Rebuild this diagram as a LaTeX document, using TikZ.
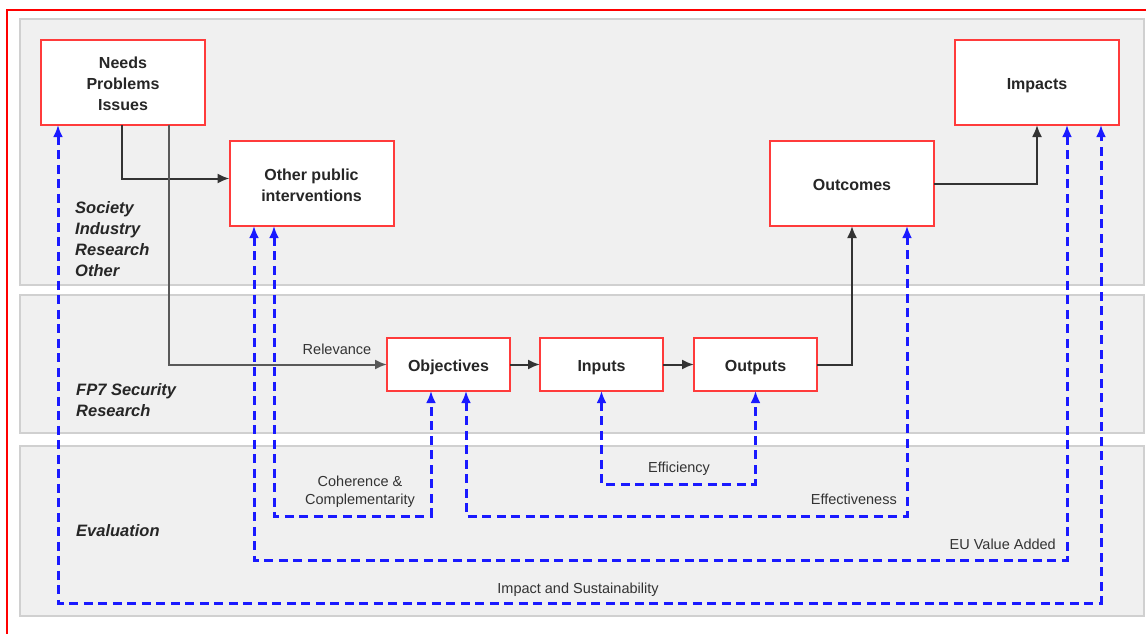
\documentclass[tikz,border=0pt]{standalone}
\usepackage{fontspec}
\setmainfont{Liberation Sans}
\usetikzlibrary{arrows.meta}
\definecolor{bandfill}{HTML}{F0F0F0}
\definecolor{bandline}{HTML}{D0D0D0}
\definecolor{boxred}{HTML}{FF3B3B}
\definecolor{evalblue}{HTML}{1A1AFF}
\definecolor{labelgray}{HTML}{333333}
% stage text, set a little lower than the geometric centre
\newcommand\stagelabel[1]{\raisebox{-3pt}[\height][\depth]{\begin{tabular}{@{}c@{}}#1\end{tabular}}}
\begin{document}
\begin{tikzpicture}[x=1pt,y=-1pt,
  band/.style={fill=bandfill,draw=bandline,line width=1.6pt},
  stage/.style={draw=boxred,fill=white,line width=2pt,inner sep=0pt,outer sep=0pt,
    font=\fontsize{16}{21}\selectfont\bfseries,text=black!85},
  bigstage/.style={stage,minimum width=164pt,minimum height=85pt},
  smallstage/.style={stage,minimum width=123pt,minimum height=53pt},
  flow/.style={draw=black!80,line width=2pt,-{Latex[length=12pt,width=10pt]}},
  evalflow/.style={draw=evalblue,line width=3pt,dash pattern=on 9pt off 5.5pt,
    {Latex[length=12pt,width=10pt]}-{Latex[length=12pt,width=10pt]}},
  tag/.style={font=\fontsize{14.5}{18}\selectfont,text=labelgray,inner sep=0pt,align=center},
  layer/.style={font=\fontsize{16.5}{21}\selectfont\bfseries\itshape,text=black!85,
    inner sep=0pt,align=left,anchor=west}]

% page and frame
\useasboundingbox (0,0) rectangle (1146,634);
\fill[white] (0,0) rectangle (1146,634);
\draw[red,line width=2.4pt] (7,10) rectangle (1165,655);

% horizontal layers
\draw[band] (20,19) rectangle (1144,285);
\draw[band] (20,295) rectangle (1144,433);
\draw[band] (20,446) rectangle (1144,616);

\node[layer] (lsoc) at (75,239) {Society\\Industry\\Research\\Other};
\node[layer] (lfp7) at (76,400) {FP7 Security\\Research};
\node[layer] (leval) at (76,531) {Evaluation};

% stages
\node[bigstage] (needs) at (123,82.5) {\stagelabel{Needs\\Problems\\Issues}};
\node[bigstage] (other) at (311.5,183.5) {\stagelabel{Other public\\interventions}};
\node[bigstage] (outcomes) at (852,183.5) {\stagelabel{Outcomes}};
\node[bigstage] (impacts) at (1037,82.5) {\stagelabel{Impacts}};
\node[smallstage] (obj) at (448.5,364.5) {\stagelabel{Objectives}};
\node[smallstage] (inputs) at (601.5,364.5) {\stagelabel{Inputs}};
\node[smallstage] (outputs) at (755.5,364.5) {\stagelabel{Outputs}};

% intervention logic
\draw[flow] ([xshift=-1pt]needs.south) |- ([yshift=5pt]other.west);
\draw[flow,draw=black!65] ([xshift=46pt]needs.south) |- (obj.west);
\draw[flow] (obj) -- (inputs);
\draw[flow] (inputs) -- (outputs);
\draw[flow] (outputs.east) -| (outcomes.south);
\draw[flow] (outcomes.east) -| (impacts.south);
\node[tag] (trel) at (337,349) {Relevance};

% evaluation criteria
\draw[evalflow] (inputs.south) -- ++(0,93) -| (outputs.south);
\draw[evalflow] ([xshift=-37.5pt]other.south) -- ++(0,290) -| ([xshift=-17.5pt]obj.south);
\draw[evalflow] ([xshift=17.5pt]obj.south) -- ++(0,125) -| ([xshift=55pt]outcomes.south);
\draw[evalflow] ([xshift=-57.5pt]other.south) -- ++(0,334) -| ([xshift=30pt]impacts.south);
\draw[evalflow] ([xshift=-65pt]needs.south) -- ++(0,478) -| ([xshift=64pt]impacts.south);

\node[tag] (teff) at (679,469) {Efficiency};
\node[tag] (tcoh) at (360,492) {Coherence \&\\Complementarity};
\node[tag,anchor=east] (tefv) at (897,499) {Effectiveness};
\node[tag,anchor=east] (teu) at (1056,544) {EU Value Added};
\node[tag] (timp) at (578,590) {Impact and Sustainability};
\end{tikzpicture}
\end{document}
